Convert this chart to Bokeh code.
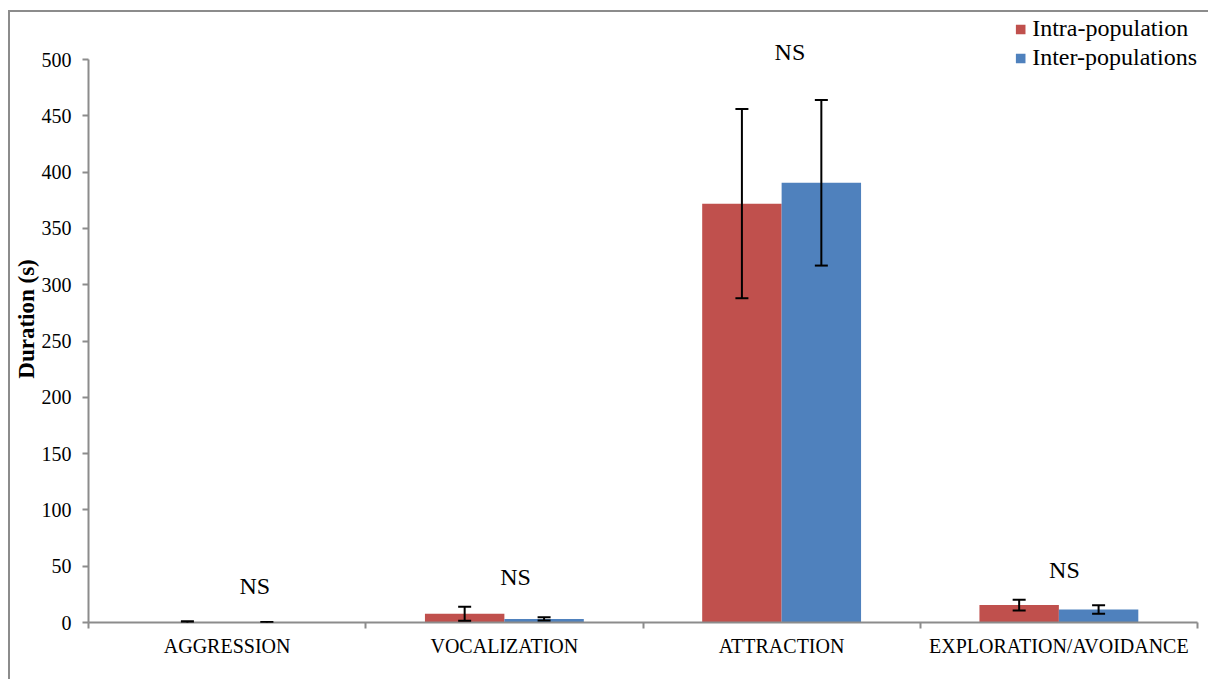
from bokeh.plotting import figure
from bokeh.models import (ColumnDataSource, Range1d, FixedTicker, Whisker, TeeHead,
                          Legend, LegendItem)
from bokeh.transform import dodge
from bokeh.core.properties import value
from bokeh.embed import file_html
from bokeh.resources import INLINE

categories = ["AGGRESSION", "VOCALIZATION", "ATTRACTION", "EXPLORATION/AVOIDANCE"]
series_names = ["Intra-population", "Inter-populations"]
intra_mean = [0.3, 7.8, 372.0, 15.5]
intra_err = [0.7, 6.2, 84.0, 4.8]
inter_mean = [0.1, 3.2, 390.5, 11.5]
inter_err = [0.4, 1.5, 73.5, 3.8]
ns_labels = ["NS", "NS", "NS", "NS"]
ns_y = [32, 40, 507, 47]
ns_shift = [0.10, 0.04, 0.03, 0.02]
y_ticks = [0, 50, 100, 150, 200, 250, 300, 350, 400, 450, 500]

RED = "#C0504D"
BLUE = "#4F81BD"
SERIF = "Liberation Serif"
AXIS_GRAY = "#8C8C8C"

centers = [i + 0.5 for i in range(len(categories))]
src = ColumnDataSource(dict(
    x=centers,
    intra=intra_mean,
    inter=inter_mean,
    intra_lo=[m - e for m, e in zip(intra_mean, intra_err)],
    intra_hi=[m + e for m, e in zip(intra_mean, intra_err)],
    inter_lo=[m - e for m, e in zip(inter_mean, inter_err)],
    inter_hi=[m + e for m, e in zip(inter_mean, inter_err)],
))
ns_src = ColumnDataSource(dict(
    x=[c + s for c, s in zip(centers, ns_shift)],
    y=ns_y,
    text=ns_labels,
))

p = figure(width=1200, height=669, output_backend="svg", toolbar_location=None,
           x_range=Range1d(0, len(categories)), y_range=Range1d(0, 539.1),
           min_border_left=76, min_border_right=13, min_border_top=3, min_border_bottom=59)
p.styles = {"border-top": "2px solid #8C8C8C", "border-left": "2px solid #8C8C8C",
            "margin-top": "10px", "margin-left": "8px"}
p.outline_line_color = None
p.xgrid.visible = False
p.ygrid.visible = False
p.background_fill_color = "white"
p.border_fill_color = "white"

bw = 0.2865
off = bw / 2
r1 = p.vbar(x=dodge("x", -off, range=p.x_range), top="intra", width=bw, source=src,
            fill_color=RED, line_color=None)
r2 = p.vbar(x=dodge("x", off, range=p.x_range), top="inter", width=bw, source=src,
            fill_color=BLUE, line_color=None)

for lo, hi, d in (("intra_lo", "intra_hi", -off), ("inter_lo", "inter_hi", off)):
    w = Whisker(base=dodge("x", d, range=p.x_range), lower=lo, upper=hi, source=src,
                line_color="black", line_width=2, level="overlay",
                upper_head=TeeHead(size=13, line_color="black", line_width=2),
                lower_head=TeeHead(size=13, line_color="black", line_width=2))
    p.add_layout(w)

p.text(x="x", y="y", text="text", source=ns_src, text_font=value(SERIF),
       text_font_size="24px", text_align="center", text_baseline="middle",
       text_color="black")

# x axis
xa = p.xaxis[0]
xa.ticker = FixedTicker(ticks=centers, minor_ticks=list(range(len(categories) + 1)))
xa.major_label_overrides = {c: name for c, name in zip(centers, categories)}
xa.major_tick_out = 0
xa.major_tick_in = 0
xa.minor_tick_out = 6
xa.minor_tick_in = 0
xa.minor_tick_line_color = AXIS_GRAY
xa.minor_tick_line_width = 2
xa.axis_line_color = AXIS_GRAY
xa.axis_line_width = 2
xa.major_label_text_font = SERIF
xa.major_label_text_font_size = "20px"
xa.major_label_text_color = "black"
xa.major_label_standoff = 6

# y axis
ya = p.yaxis[0]
ya.ticker = FixedTicker(ticks=y_ticks)
ya.bounds = (0, 500)
ya.minor_tick_line_color = None
ya.major_tick_out = 6
ya.major_tick_in = 0
ya.major_tick_line_color = AXIS_GRAY
ya.major_tick_line_width = 2
ya.axis_line_color = AXIS_GRAY
ya.axis_line_width = 2
ya.major_label_text_font = SERIF
ya.major_label_text_font_size = "20px"
ya.major_label_text_color = "black"
ya.major_label_standoff = 11
ya.axis_label = "Duration (s)"
ya.axis_label_text_font = SERIF
ya.axis_label_text_font_style = "bold"
ya.axis_label_text_font_size = "23px"
ya.axis_label_text_color = "black"
ya.axis_label_standoff = 0

legend = Legend(items=[LegendItem(label=series_names[0], renderers=[r1]),
                       LegendItem(label=series_names[1], renderers=[r2])],
                location="top_right")
legend.border_line_color = None
legend.background_fill_alpha = 0
legend.label_text_font = SERIF
legend.label_text_font_size = "24px"
legend.label_text_color = "black"
legend.glyph_width = 12
legend.glyph_height = 12
legend.label_standoff = 6
legend.spacing = 2
legend.padding = 0
legend.margin = 0
p.add_layout(legend)

open("out.html", "w").write(file_html(p, INLINE))
